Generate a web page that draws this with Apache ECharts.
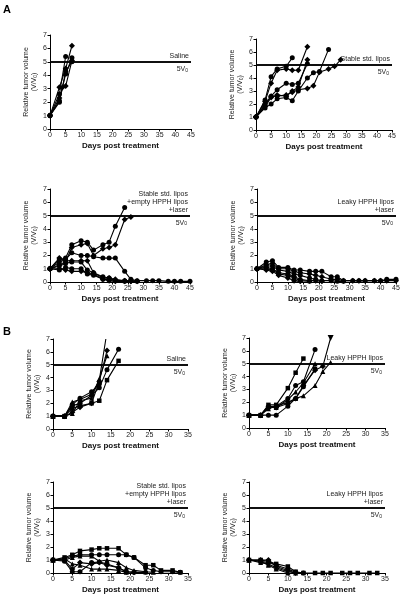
<!DOCTYPE html>
<html><head><meta charset="utf-8">
<script src="https://cdn.jsdelivr.net/npm/echarts@6/dist/echarts.min.js"></script>
<style>html,body{margin:0;padding:0;background:#fff}#c{width:406px;height:600px}</style>
</head><body><div id="c"></div>
<script>
// ---------- DATA ----------
const panelLabels = ['Saline', 'Stable std. lipos', 'Stable std. lipos\n+empty HPPH lipos\n+laser', 'Leaky HPPH lipos\n+laser',
                     'Saline', 'Leaky HPPH lipos', 'Stable std. lipos\n+empty HPPH lipos\n+laser', 'Leaky HPPH lipos\n+laser'];
const threshold = 5;
const xMaxA = 45, xMaxB = 35, yMax = 7;
const xTicksA = 5, xTicksB = 5, yTicks = 1;

// Panel A1: Saline
const a1 = [
  [[0,1],[3,2.6],[5,5.4]],
  [[0,1],[3,3.1],[5,4.5],[7,6.2]],
  [[0,1],[3,2.1],[5,4.1],[7,5.3]],
  [[0,1],[3,2.3],[4,3.1],[5,3.2],[7,5.1]],
  [[0,1],[3,2.0],[5,4.3],[7,5.0]]
];
// Panel A2: Stable std. lipos
const a2 = [
  [[0,1],[3,2.3],[5,4.1],[7,4.7],[10,4.9],[12,5.55]],
  [[0,1],[3,2.2],[5,3.6],[7,4.6],[10,4.7],[12,4.6],[14,4.6],[17,6.4]],
  [[0,1],[3,2.0],[5,2.6],[7,3.1],[10,3.6],[12,3.5],[14,3.6],[17,5.1]],
  [[0,1],[3,1.8],[5,2.5],[7,2.7],[10,2.6],[12,3.0],[14,3.3],[17,5.4]],
  [[0,1],[3,1.7],[5,2.0],[7,2.4],[10,2.5],[12,2.25],[14,3.0],[17,4.0],[19,4.4],[21,4.5],[24,6.2]],
  [[0,1],[3,1.9],[5,2.6],[7,2.6],[10,2.7],[12,2.9],[14,3.1],[17,3.2],[19,3.4],[21,4.45],[24,4.7],[26,4.9],[28,5.4]]
];
// Panel A3: Stable std. lipos + empty HPPH lipos + laser
const a3 = [
  [[0,1],[3,1.7],[5,1.8],[7,2.8],[10,3.1],[12,3.0],[14,2.4],[17,2.8],[19,3.0],[21,4.2],[24,5.6]],
  [[0,1],[3,1.3],[5,1.5],[7,2.6],[10,2.8],[12,2.9],[14,2.0],[17,2.5],[19,2.6],[21,2.8],[24,4.7],[26,4.9]],
  [[0,1],[3,1.5],[5,1.7],[7,2.2],[10,2.0],[12,2.0],[14,1.9],[17,1.8],[19,1.8],[21,1.8],[24,0.8],[26,0.2],[28,0.1],[31,0.1],[33,0.1],[35,0.1],[38,0.05],[40,0.05],[42,0.05],[45,0.05]],
  [[0,1],[3,1.8],[5,1.6],[7,1.6],[10,1.6],[12,1.6],[14,0.7],[17,0.3],[19,0.3],[21,0.2],[24,0.1],[26,0.05],[28,0.05]],
  [[0,1],[3,1.2],[5,1.4],[7,1.5],[10,1.5],[12,0.9],[14,0.7],[17,0.4],[19,0.3],[21,0.1],[24,0.05]],
  [[0,1],[3,1.0],[5,0.9],[7,0.8],[10,0.8],[12,0.7],[14,0.6],[17,0.2],[19,0.1],[21,0.05],[24,0.05],[26,0.05]],
  [[0,1],[3,0.9],[5,1.1],[7,1.0],[10,1.0],[12,0.6],[14,0.5],[17,0.2],[19,0.2],[21,0.1],[24,0.1],[26,0.1],[28,0.05]]
];
// Panel A4: Leaky HPPH lipos + laser
const a4 = [
  [[0,1],[3,1.5],[5,1.6],[7,1.1],[10,1.1],[12,0.9],[14,0.9],[17,0.8],[19,0.8],[21,0.8],[24,0.4],[26,0.4],[28,0.1],[31,0.1],[33,0.1],[35,0.1],[38,0.1],[40,0.1],[42,0.2],[45,0.2]],
  [[0,1],[3,1.3],[5,1.4],[7,1.0],[10,1.0],[12,0.8],[14,0.7],[17,0.6],[19,0.5],[21,0.4],[24,0.2],[26,0.2],[28,0.1],[31,0.1],[33,0.1],[35,0.1],[38,0.1],[40,0.1],[42,0.1],[45,0.1]],
  [[0,1],[3,1.2],[5,1.2],[7,0.9],[10,0.8],[12,0.6],[14,0.5],[17,0.3],[19,0.2],[21,0.1],[24,0.1],[26,0.05],[28,0.05]],
  [[0,1],[3,1.1],[5,1.0],[7,0.7],[10,0.6],[12,0.4],[14,0.2],[17,0.1],[19,0.1],[21,0.05]],
  [[0,1],[3,1.0],[5,0.9],[7,0.6],[10,0.5],[12,0.3],[14,0.1],[17,0.05]],
  [[0,1],[3,0.9],[5,0.8],[7,0.5],[10,0.3],[12,0.1],[14,0.05]]
];
// Panel B1: Saline
const b1 = [
  [[0,1],[3,1],[5,1.6],[7,1.8],[10,2.0],[12,2.2],[14,3.8],[17,5.3]],
  [[0,1],[3,1],[5,1.8],[7,2.0],[10,2.6],[12,3.2],[14,4.6],[17,6.2]],
  [[0,1],[3,1],[5,2.1],[7,2.3],[10,2.7],[12,3.8],[13.7,7]],
  [[0,1],[3,1],[5,1.3],[7,1.7],[10,2.0],[12,3.7],[14,6.1]],
  [[0,1],[3,1],[5,1.2],[7,2.2],[10,2.4],[12,3.9],[14,5.7]],
  [[0,1],[3,1],[5,1.9],[7,2.4],[10,2.9],[12,3.5]]
];
// Panel B2: Leaky HPPH lipos
const b2 = [
  [[0,1],[3,1],[5,1.8],[7,1.8],[10,3.1],[12,4.3],[14,5.4]],
  [[0,1],[3,1],[5,1.6],[7,1.7],[10,2.3],[12,3.3],[14,3.6],[17,6.1]],
  [[0,1],[3,1],[5,1.7],[7,1.6],[10,2.2],[12,2.8],[14,3.5],[17,5.0]],
  [[0,1],[3,1],[5,1.7],[7,1.6],[10,1.9],[12,2.3],[14,3.3],[17,4.5],[19,4.8],[21,7.0]],
  [[0,1],[3,1],[5,1.5],[7,1.7],[10,2.0],[12,2.3],[14,2.5],[17,3.3],[19,4.4],[21,5.1]],
  [[0,1],[3,1],[5,1.0],[7,1.0],[10,1.7],[12,2.3],[14,3.2],[17,4.6]]
];
// Panel B3: Stable std. lipos + empty HPPH lipos + laser
const b3 = [
  [[0,1],[3,1.2],[5,1.4],[7,1.7],[10,1.8],[12,1.9],[14,1.9],[17,1.9],[19,1.4],[21,1.2],[24,0.6],[26,0.6],[28,0.2],[31,0.2],[33,0.05]],
  [[0,1],[3,1.1],[5,1.3],[7,1.4],[10,1.4],[12,1.4],[14,1.4],[17,1.4],[19,1.4],[21,1.2],[24,0.4],[26,0.2],[28,0.1],[31,0.1],[33,0.05]],
  [[0,1],[3,1.0],[5,1.2],[7,1.3],[10,1.3],[12,0.9],[14,1.0],[17,0.8],[19,0.4],[21,0.2],[24,0.1],[26,0.05]],
  [[0,1],[3,1.0],[5,0.3],[7,0.8],[10,0.7],[12,0.8],[14,0.6],[17,0.4],[19,0.1],[21,0.05]],
  [[0,1],[3,1.1],[5,0.7],[7,0.6],[10,0.3],[12,0.3],[14,0.3],[17,0.2],[19,0.05]],
  [[0,1],[3,0.9],[5,0.1],[7,0.1],[10,0.8],[12,0.85],[14,0.7],[17,0.4],[19,0.1],[21,0.05],[24,0.05]]
];
// Panel B4: Leaky HPPH lipos + laser
const b4 = [
  [[0,1],[3,1.0],[5,0.9],[7,0.7],[10,0.5],[12,0.1],[14,0],[17,0],[19,0],[21,0],[24,0],[26,0],[28,0],[31,0],[33,0]],
  [[0,1],[3,0.9],[5,0.8],[7,0.6],[10,0.3],[12,0.05],[14,0]],
  [[0,1],[3,0.8],[5,0.7],[7,0.4],[10,0.1],[12,0]],
  [[0,1],[3,1.0],[5,1.0],[7,0.5],[10,0.2],[12,0]],
  [[0,1],[3,0.9],[5,0.6],[7,0.3],[10,0.0]]
];

// ---------- LAYOUT / STYLE ----------
const panels = [a1, a2, a3, a4, b1, b2, b3, b4];
const xMaxes = [xMaxA, xMaxA, xMaxA, xMaxA, xMaxB, xMaxB, xMaxB, xMaxB];
const grids = [
  {left: 50, top: 35, width: 141, height: 94},
  {left: 256, top: 39, width: 136, height: 91},
  {left: 50, top: 189, width: 140, height: 93},
  {left: 257, top: 189, width: 139, height: 93},
  {left: 53, top: 339, width: 135, height: 90},
  {left: 249, top: 338, width: 136, height: 90},
  {left: 53, top: 482, width: 135, height: 91},
  {left: 249, top: 482, width: 136, height: 91}
];
const symbolsA = ['circle', 'diamond', 'circle', 'diamond', 'circle', 'diamond', 'circle'];
const symbolsB = ['rect', 'circle', 'triangle', 'diamond', 'triangle', 'circle'];
const FONT = 'Liberation Sans, Arial, sans-serif';

const xAxes = [], yAxes = [], series = [];
panels.forEach((lines, i) => {
  xAxes.push({
    gridIndex: i, type: 'value', min: 0, max: xMaxes[i], interval: i < 4 ? xTicksA : xTicksB,
    name: 'Days post treatment', nameLocation: 'middle', nameGap: 13,
    nameTextStyle: {fontFamily: FONT, fontSize: 8, fontWeight: 'bold', color: '#111'},
    axisLine: {lineStyle: {color: '#000', width: 1}},
    axisTick: {show: true, length: 2.5, lineStyle: {color: '#000'}},
    axisLabel: {fontFamily: FONT, fontSize: 7, color: '#222', margin: 3},
    splitLine: {show: false}
  });
  yAxes.push({
    gridIndex: i, type: 'value', min: 0, max: yMax, interval: yTicks,
    name: '{t|Relative tumor volume}\n{t|(V/V}{s|0}{t|)}', nameLocation: 'middle', nameGap: 12,
    nameTextStyle: {fontFamily: FONT, fontSize: 7, color: '#222',
      rich: {t: {fontFamily: FONT, fontSize: 7, color: '#222', lineHeight: 8}, s: {fontFamily: FONT, fontSize: 5, color: '#222', padding: [3, 0, 0, 0]}}},
    axisLine: {show: true, lineStyle: {color: '#000', width: 1}},
    axisTick: {show: true, length: 2.5, lineStyle: {color: '#000'}},
    axisLabel: {fontFamily: FONT, fontSize: 7, color: '#222', margin: 3},
    splitLine: {show: false}
  });
  const syms = i < 4 ? symbolsA : symbolsB;
  lines.forEach((pts, k) => {
    const data = pts.map(p => (p[1] >= yMax ? {value: p, symbol: (i === 5 ? 'triangle' : 'none'), symbolRotate: 180} : p));
    const sym = syms[k % syms.length];
    series.push({
      type: 'line', xAxisIndex: i, yAxisIndex: i, data: data,
      symbol: sym, symbolSize: sym === 'diamond' ? 6 : (sym === 'rect' ? 4.5 : 5),
      lineStyle: {color: '#000', width: 1.1}, itemStyle: {color: '#000'},
      clip: false, silent: true, z: 3
    });
  });
  // threshold line 5V0 with labels
  series.push({
    type: 'line', xAxisIndex: i, yAxisIndex: i, data: [], silent: true,
    markLine: {
      silent: true, symbol: 'none', animation: false,
      lineStyle: {color: '#000', width: 1.5, type: 'solid'},
      data: [
        {yAxis: threshold, label: {show: true, position: 'insideEndTop', formatter: panelLabels[i], fontFamily: FONT, fontSize: 7, color: '#222', lineHeight: 8, align: 'right', distance: 2}},
        {yAxis: threshold, label: {show: true, position: 'insideEndBottom', formatter: '{n|5V}{s|0}', distance: 3,
          rich: {n: {fontFamily: FONT, fontSize: 7, color: '#222'}, s: {fontFamily: FONT, fontSize: 5, color: '#222', padding: [3, 0, 0, 0]}}}}
      ]
    }
  });
});

const chart = echarts.init(document.getElementById('c'), null, {renderer: 'canvas'});
chart.setOption({
  animation: false,
  backgroundColor: '#fff',
  title: [
    {text: 'A', left: 3, top: 4, padding: 0, textStyle: {fontFamily: FONT, fontSize: 11, fontWeight: 'bold', color: '#000'}},
    {text: 'B', left: 3, top: 326, padding: 0, textStyle: {fontFamily: FONT, fontSize: 11, fontWeight: 'bold', color: '#000'}}
  ],
  grid: grids,
  xAxis: xAxes,
  yAxis: yAxes,
  series: series
});
</script></body></html>
